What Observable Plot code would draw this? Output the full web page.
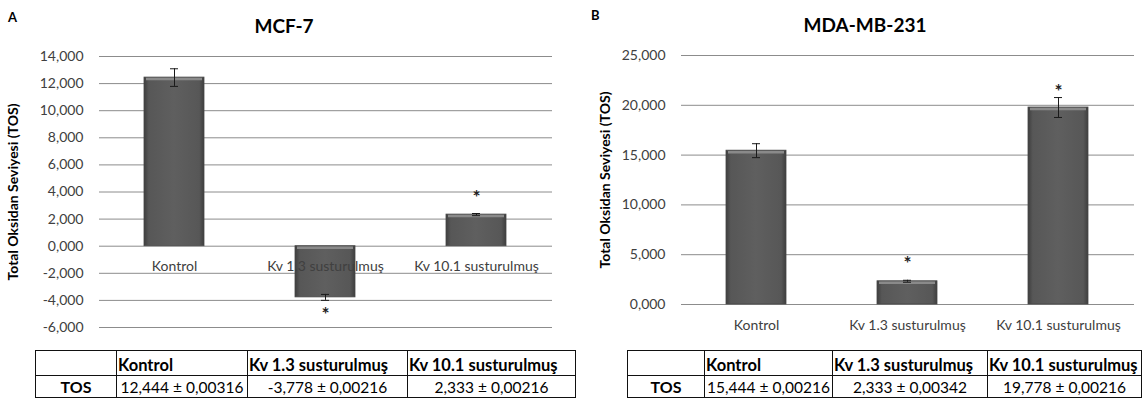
<!DOCTYPE html>
<html>
<head>
<meta charset="utf-8">
<script src="https://cdn.jsdelivr.net/npm/d3@7"></script>
<script src="https://cdn.jsdelivr.net/npm/@observablehq/plot@0.6"></script>
<style>
  html, body { margin: 0; padding: 0; background: #fff; }
  body { width: 1146px; height: 402px; position: relative; overflow: hidden; font-family: Lato, "Open Sans", sans-serif; }
  .panel { position: absolute; top: 0; }
  .letter { position: absolute; font-weight: bold; font-size: 13px; color: #000; }
  .title { position: absolute; font-weight: bold; font-size: 19px; color: #000; transform: translateX(-50%); white-space: nowrap; }
  table.tos { position: absolute; border-collapse: collapse; table-layout: fixed; color: #000; }
  table.tos td { border: 1.5px solid #111; padding: 0 1px; white-space: nowrap; }
  table.tos tr.h td { height: 24px; font-weight: bold; text-align: left; font-size: 16.5px; vertical-align: bottom; }
  table.tos tr.d td { height: 21px; text-align: center; font-size: 15.5px; }
  table.tos tr.d td:first-child { font-weight: bold; font-size: 16px; }
  svg [aria-label="y-axis label"] text { font-weight: bold; font-size: 14px; fill: #000; }
</style>
</head>
<body>
<div class="letter" style="left:8px; top:9px;">A</div>
<div class="letter" style="left:591px; top:7px;">B</div>
<div class="title" style="left:284px; top:14px;">MCF-7</div>
<div class="title" style="left:865px; top:13px;">MDA-MB-231</div>
<div id="chartA" class="panel" style="left:0px;"></div>
<div id="chartB" class="panel" style="left:580px;"></div>
<script>
// ---- data ----
const categories = ["Kontrol", "Kv 1.3 susturulmuş", "Kv 10.1 susturulmuş"];
const rowLabel = "TOS";

const mcfValues = [12.444, -3.778, 2.333];
const mcfErrors = [0.65, 0.22, 0.08];        // drawn error bars
const mcfSig = [null, -4.78, 3.87];          // asterisk positions
const mcfSd = [0.00316, 0.00216, 0.00216];   // table values
const mcfTicks = [-6, -4, -2, 0, 2, 4, 6, 8, 10, 12, 14];

const mdaValues = [15.444, 2.333, 19.778];
const mdaErrors = [0.7, 0.1, 1.0];
const mdaSig = [null, 4.5, 21.7];
const mdaSd = [0.00216, 0.00342, 0.00216];
const mdaTicks = [0, 5, 10, 15, 20, 25];

const yLabel = "Total Oksidan Seviyesi (TOS)";

// ---- formatting (Turkish decimal comma) ----
const locale = d3.formatLocale({decimal: ",", thousands: ".", grouping: [3], currency: ["", ""], minus: "-"});
const fmt3 = locale.format(".3f");
const fmt5 = locale.format(".5f");

function chart(cfg) {
  const data = categories.map((c, i) => ({
    cat: c, v: cfg.values[i], lo: cfg.values[i] - cfg.errors[i], hi: cfg.values[i] + cfg.errors[i], sig: cfg.sig[i]
  }));
  const plot = Plot.plot({
    width: cfg.width,
    height: 345,
    marginLeft: cfg.marginLeft,
    marginRight: cfg.marginRight,
    marginTop: cfg.marginTop,
    marginBottom: cfg.marginBottom,
    style: {fontFamily: "Lato, 'Open Sans', sans-serif", fontSize: "14px", color: "#404040", background: "transparent"},
    x: {domain: categories, paddingInner: 0.6, paddingOuter: 0.3, axis: null},
    y: {domain: [cfg.ticks[0], cfg.ticks[cfg.ticks.length - 1]]},
    marks: [
      Plot.gridY(cfg.ticks, {stroke: "#8c8c8c", strokeOpacity: 1, strokeWidth: 1}),
      Plot.axisY(cfg.ticks, {
        tickSize: 0, tickPadding: 16, tickFormat: fmt3, fontSize: 14, fill: "#404040",
        label: yLabel, labelAnchor: "center", labelArrow: "none", labelOffset: cfg.labelOffset
      }),
      Plot.barY(data, {x: "cat", y: "v", fill: `url(#${cfg.grad})`, stroke: "#474747", strokeWidth: 0.8}),
      Plot.tickY(data, {x: "cat", y: d => Math.max(d.v, 0), dy: 1.5, stroke: "#8a8a8a", strokeWidth: 2.5, insetLeft: 2, insetRight: 2}),
      Plot.ruleX(data, {x: "cat", y1: "lo", y2: "hi", stroke: "#1a1a1a", strokeWidth: 1}),
      Plot.tickY(data, {x: "cat", y: "lo", stroke: "#1a1a1a", insetLeft: 26, insetRight: 26}),
      Plot.tickY(data, {x: "cat", y: "hi", stroke: "#1a1a1a", insetLeft: 26, insetRight: 26}),
      Plot.text(data.filter(d => d.sig != null), {x: "cat", y: "sig", text: () => "*", fontSize: 19, fontWeight: "bold", fill: "#222", dy: 4}),
      Plot.text(data, {x: "cat", y: () => 0, text: "cat", dy: cfg.labelDy, fontSize: 14, fill: "#404040"})
    ]
  });
  // bar shading gradient
  const ns = "http://www.w3.org/2000/svg";
  const defs = document.createElementNS(ns, "defs");
  defs.innerHTML = `<linearGradient id="${cfg.grad}" x1="0" x2="1" y1="0" y2="0">
     <stop offset="0" stop-color="#3e3e3e"/><stop offset="0.08" stop-color="#575757"/>
     <stop offset="0.5" stop-color="#5f5f5f"/><stop offset="0.92" stop-color="#575757"/>
     <stop offset="1" stop-color="#3e3e3e"/></linearGradient>`;
  plot.insertBefore(defs, plot.firstChild);
  return plot;
}

document.getElementById("chartA").appendChild(chart({
  values: mcfValues, errors: mcfErrors, sig: mcfSig, ticks: mcfTicks, grad: "gradA",
  width: 580, marginLeft: 99, marginRight: 28, marginTop: 56, marginBottom: 18, labelOffset: 91, labelDy: 20
}));
document.getElementById("chartB").appendChild(chart({
  values: mdaValues, errors: mdaErrors, sig: mdaSig, ticks: mdaTicks, grad: "gradB",
  width: 566, marginLeft: 101, marginRight: 12, marginTop: 55, marginBottom: 41, labelOffset: 81, labelDy: 21
}));

// ---- tables ----
function table(left, widths, values, sds) {
  const t = document.createElement("table");
  t.className = "tos";
  t.style.left = left + "px";
  t.style.top = "350px";
  t.style.width = widths.reduce((a, b) => a + b, 0) + "px";
  const cg = document.createElement("colgroup");
  widths.forEach(w => { const c = document.createElement("col"); c.style.width = w + "px"; cg.appendChild(c); });
  t.appendChild(cg);
  const h = t.insertRow(); h.className = "h";
  h.insertCell().textContent = "";
  categories.forEach(c => { h.insertCell().textContent = c; });
  const r = t.insertRow(); r.className = "d";
  r.insertCell().textContent = rowLabel;
  values.forEach((v, i) => { r.insertCell().textContent = fmt3(v) + " ± " + fmt5(sds[i]); });
  document.body.appendChild(t);
}
table(35, [81, 131, 160, 168], mcfValues, mcfSd);
table(627, [77, 128, 155, 154], mdaValues, mdaSd);
</script>
</body>
</html>
